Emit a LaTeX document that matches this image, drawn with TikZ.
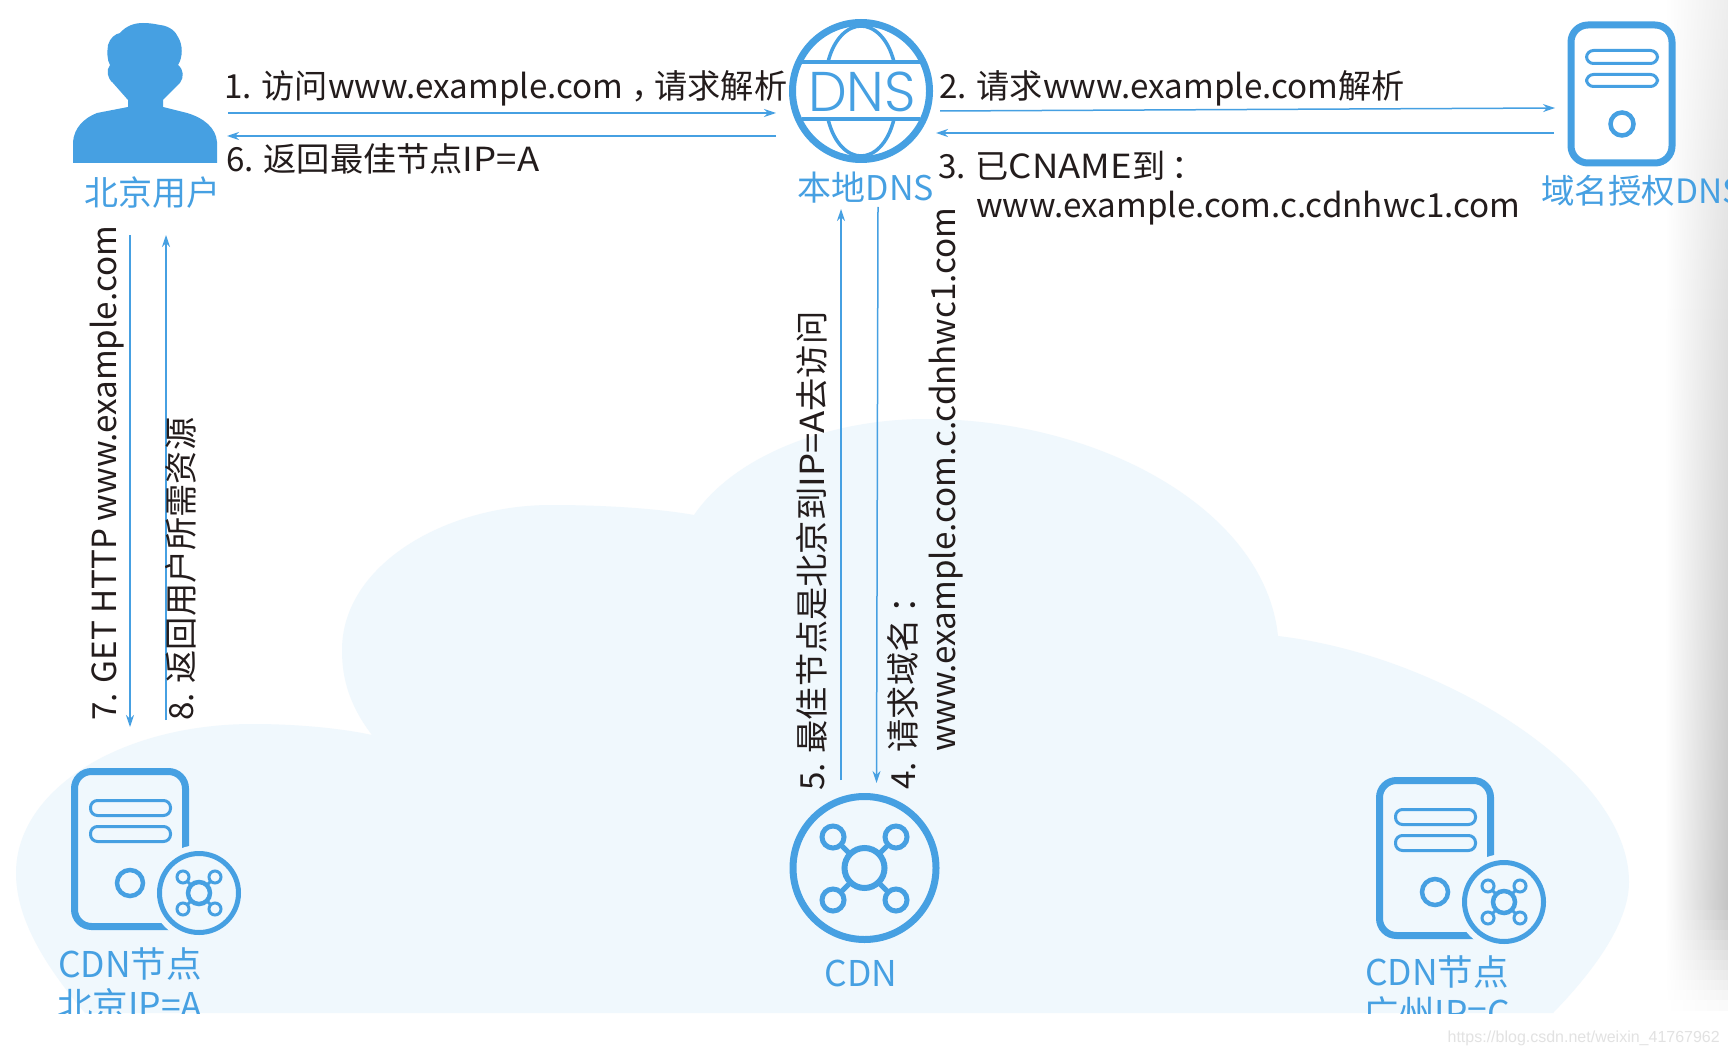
\documentclass[tikz,border=0pt]{standalone}
\usepackage{fontspec}
\setmainfont{Noto Sans CJK SC}
\setsansfont{Liberation Sans}
\newfontfamily\dnsfont{Poppins Light}
\newcommand{\wide}[1]{{\addfontfeature{FakeStretch=1.1}#1}}
\usepackage{xcolor}
\definecolor{cdnblue}{RGB}{70,160,226}
\definecolor{cdncloud}{RGB}{240,248,253}
\definecolor{cdnink}{RGB}{35,28,28}
\definecolor{cdnmark}{RGB}{226,226,226}
\usetikzlibrary{arrows.meta,positioning}
\tikzset{
  flow/.style={-{Stealth[length=12pt,width=8pt]}, line width=1.5pt, cdnblue},
  icon/.style={draw=none, inner sep=0pt, outer sep=0pt},
  bluetext/.style={text=cdnblue, inner sep=0pt, font=\fontsize{34}{40}\selectfont, align=center},
  edgetext/.style={bluetext, font=\fontsize{35.5}{40}\selectfont},
  blacktext/.style={text=cdnink, inner sep=0pt, anchor=base west, font=\fontsize{33.2}{40}\selectfont},
  sideways/.style={blacktext, rotate=90},
  thickline/.style={draw=cdnblue, line width=7pt},
  thinline/.style={draw=cdnblue, line width=4.5pt},
  tinyline/.style={draw=cdnblue, line width=3pt},
  server/.pic={
    \draw[thickline, rounded corners=17pt] (3.5,3.5) rectangle (114.5,158.5);
    \draw[tinyline, rounded corners=7pt] (19.5,32.5) rectangle (99.5,47.5);
    \draw[tinyline, rounded corners=7pt] (19.5,58.5) rectangle (99.5,73.5);
    \draw[thinline] (59,115) circle (13pt);
    \fill[cdncloud] (128,125) circle (48pt);
    \draw[line width=5pt, draw=cdnblue] (128,125) circle (39.5pt);
    \draw[tinyline] (112,109) -- (144,141) (144,109) -- (112,141);
    \foreach \px/\py in {112/109,144/109,112/141,144/141}{
      \draw[tinyline, fill=cdncloud] (\px,\py) circle (6pt);
    }
    \draw[thinline, fill=cdncloud] (128,125) circle (11pt);
  }
}
\begin{document}
\begin{tikzpicture}[x=1pt, y=-1pt]
  \useasboundingbox (0,0) rectangle (1728,1056);
  \fill[white] (0,0) rectangle (1728,1056);

  %% Page shadow
  \foreach \k in {0,...,100}{
    \pgfmathsetmacro{\ys}{\k*10}
    \pgfmathsetmacro{\ye}{\ys+10}
    \pgfmathsetmacro{\shadelevel}{\ys<900 ? 7+\ys/900*16 : max(0,(1010-\ys)/110*23)}
    \shade[left color=white, right color=black!\shadelevel] (1665,\ys) rectangle (1728,\ye);
  }

  %% Cloud and the clipped labels
  \begin{scope}
    \clip (0,0) rectangle (1728,1013);
    \fill[cdncloud] (85,1013) .. controls (40,960) and (16,915) .. (16,873)
      .. controls (16,790) and (120,724) .. (253,724)
      .. controls (295,724) and (340,728) .. (372,735)
      .. controls (345,700) and (342,670) .. (342,650)
      .. controls (342,565) and (445,505) .. (551,505)
      .. controls (600,505) and (655,508) .. (694,515)
      .. controls (735,455) and (830,419) .. (926,419)
      .. controls (1100,419) and (1265,510) .. (1278,636)
      .. controls (1440,655) and (1629,770) .. (1629,882)
      .. controls (1629,925) and (1590,975) .. (1553,1013) -- cycle;
    \node[edgetext] (bjlabel) at (130,964) {CDN节点};
    \node[edgetext] (bjip) at (130,1005) {北京IP=A};
    \node[edgetext] (gzlabel) at (1437,972) {CDN节点};
    \node[edgetext] (gzip) at (1437,1013) {广州IP=C};
    \node[edgetext] (cdnlabel) at (861,973) {CDN};
  \end{scope}

  %% User
  \fill[cdnblue] (73,163) -- (73,142) .. controls (74,128) and (84,118) .. (97,113)
    -- (128,107) -- (128,100) -- (113,83)
    .. controls (107,78) and (106,70) .. (110,65)
    .. controls (107,60) and (107,52) .. (108,45)
    .. controls (110,38) and (115,34) .. (120,33)
    .. controls (126,26) and (134,23) .. (143,23)
    .. controls (150,23) and (155,24) .. (160,25)
    .. controls (170,26) and (176,32) .. (178,37)
    .. controls (183,45) and (183,57) .. (178,65)
    .. controls (184,70) and (184,77) .. (180,83)
    -- (163,100) -- (163,107) -- (187,113)
    .. controls (204,118) and (216,128) .. (217,142) -- (217,163) -- cycle;
  \node[icon, minimum width=145pt, minimum height=140pt] (user) at (145.5,93) {};
  \node[bluetext] (userlabel) at (152,193) {北京用户};

  %% Local DNS globe
  \node[icon, circle, minimum size=144pt] (dns) at (861,91) {};
  \draw[thickline] (dns.center) circle (68.5pt);
  \draw[draw=cdnblue, line width=3.5pt] (802,62) -- (920,62) (802,119) -- (920,119);
  \draw[draw=cdnblue, line width=3.5pt] (828,62) .. controls (834,38) and (848,26) .. (861,26) .. controls (874,26) and (888,38) .. (894,62);
  \draw[draw=cdnblue, line width=3.5pt] (828,119) .. controls (834,144) and (848,156) .. (861,156) .. controls (874,156) and (888,144) .. (894,119);
  \node[inner sep=0pt, text=cdnblue, font=\fontsize{56}{56}\selectfont\dnsfont, xscale=0.98, transform shape] (dnsword) at (862,92) {DNS};
  \node[bluetext] (dnslabel) at (866,188) {本地DNS};

  %% Authority DNS server
  \node[icon, minimum width=107pt, minimum height=144pt] (auth) at (1621.5,94) {};
  \draw[thickline, rounded corners=17pt] (1571,25) rectangle (1672,163);
  \draw[tinyline, rounded corners=7pt] (1586.5,50.5) rectangle (1657.5,63.5);
  \draw[tinyline, rounded corners=7pt] (1586.5,74.5) rectangle (1657.5,86.5);
  \draw[thinline] (1622,124) circle (11.5pt);
  \node[bluetext, anchor=west, font=\fontsize{33.5}{40}\selectfont] (authlabel) at (1541,191) {域名授权DNS};

  %% CDN hub
  \node[icon, circle, minimum size=150pt] (cdn) at (864.5,868) {};
  \draw[thickline] (cdn.center) circle (71.5pt);
  \draw[line width=5pt, draw=cdnblue] (833,837) -- (896,900) (896,837) -- (833,900);
  \foreach \hx/\hy in {833/837,896/837,833/900,896/900}{
    \draw[line width=5pt, draw=cdnblue, fill=cdncloud] (\hx,\hy) circle (11pt);
  }
  \draw[line width=6pt, draw=cdnblue, fill=cdncloud] (cdn.center) circle (20pt);

  %% CDN edge servers
  \pic at (71,768) {server};
  \pic at (1376,777) {server};
  \node[icon, minimum width=118pt, minimum height=162pt] (bjnode) at (130,849) {};

  %% Arrows
  \draw[flow] ([shift={(10,20)}]user.east) -- ([shift={(-13,22)}]dns.west);
  \draw[flow] ([shift={(-13,45)}]dns.west) -- ([shift={(9,43)}]user.east);
  \draw[flow] ([shift={(7,20)}]dns.east) -- ([shift={(-13,14)}]auth.west);
  \draw[flow] ([shift={(-14,39)}]auth.west) -- ([shift={(3,42)}]dns.east);
  \draw[flow] ([shift={(-15.5,72)}]user.south) -- ([shift={(0,-41)}]bjnode.north);
  \draw[flow] ([shift={(36,-48)}]bjnode.north) -- ([shift={(20.5,72)}]user.south);
  \draw[flow] ([shift={(-23.5,-13)}]cdn.north) -- ([shift={(-20,46)}]dns.south);
  \draw[flow] ([shift={(17,44)}]dns.south) -- ([shift={(12,-10)}]cdn.north);

  %% Black labels
  \node[blacktext] (step1) at (224,99) {1. 访问www.example.com\kern8pt，\kern-10pt请求解析};
  \node[blacktext] (step6) at (226,172) {6. 返回最佳节点\wide{IP=A}};
  \node[blacktext] (step2) at (939,99) {2. 请求www.example.com解析};
  \node[blacktext] (step3) at (938,179) {3. 已\wide{CNAME}到\kern6pt：};
  \node[blacktext] (step3b) at (976,218) {www.example.com.c.cdnhwc1.com};
  \node[sideways] (step7) at (116,721) {7. GET HTTP www.example.com};
  \node[sideways] (step8) at (193,721) {8. 返回用户所需资源};
  \node[sideways] (step5) at (824,791) {5. 最佳节点是北京到\wide{IP=A}去访问};
  \node[sideways] (step4) at (915,790) {4. 请求域名\kern6pt：};
  \node[sideways] (step4b) at (955,752) {www.example.com.c.cdnhwc1.com};

  %% Mark
  \node[inner sep=0pt, text=cdnmark, font=\fontsize{16}{20}\selectfont\sffamily, anchor=east] (mark) at (1720,1038) {https://blog.csdn.net/weixin\_41767962};
\end{tikzpicture}
\end{document}
